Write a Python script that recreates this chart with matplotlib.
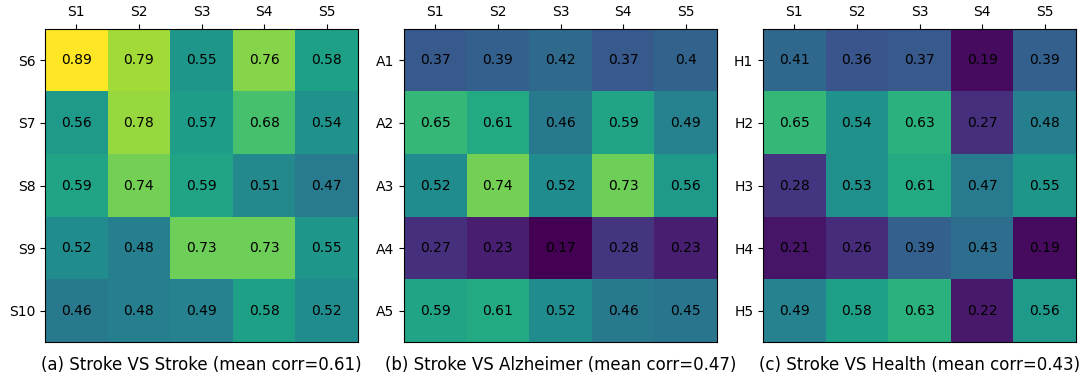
import numpy as np
import matplotlib
matplotlib.use('Agg')
import matplotlib.pyplot as plt

cols = ['S1', 'S2', 'S3', 'S4', 'S5']
rows_a = ['S6', 'S7', 'S8', 'S9', 'S10']
rows_b = ['A1', 'A2', 'A3', 'A4', 'A5']
rows_c = ['H1', 'H2', 'H3', 'H4', 'H5']

vals_a = [[0.89, 0.79, 0.55, 0.76, 0.58],
          [0.56, 0.78, 0.57, 0.68, 0.54],
          [0.59, 0.74, 0.59, 0.51, 0.47],
          [0.52, 0.48, 0.73, 0.73, 0.55],
          [0.46, 0.48, 0.49, 0.58, 0.52]]
vals_b = [[0.37, 0.39, 0.42, 0.37, 0.4],
          [0.65, 0.61, 0.46, 0.59, 0.49],
          [0.52, 0.74, 0.52, 0.73, 0.56],
          [0.27, 0.23, 0.17, 0.28, 0.23],
          [0.59, 0.61, 0.52, 0.46, 0.45]]
vals_c = [[0.41, 0.36, 0.37, 0.19, 0.39],
          [0.65, 0.54, 0.63, 0.27, 0.48],
          [0.28, 0.53, 0.61, 0.47, 0.55],
          [0.21, 0.26, 0.39, 0.43, 0.19],
          [0.49, 0.58, 0.63, 0.22, 0.56]]

captions = ['(a) Stroke VS Stroke (mean corr=0.61)',
            '(b) Stroke VS Alzheimer (mean corr=0.47)',
            '(c) Stroke VS Health (mean corr=0.43)']

panels = [(rows_a, vals_a), (rows_b, vals_b), (rows_c, vals_c)]
# gemeinsame Farbskala fuer alle drei Heatmaps
vmin = min(np.min(v) for _, v in panels)
vmax = max(np.max(v) for _, v in panels)

fig = plt.figure(figsize=(10.87, 3.81), dpi=100)
W, H = 1087, 381
lefts = [45, 404, 763]
size = 313
top = 29

for left, (rows, vals), cap in zip(lefts, panels, captions):
    ax = fig.add_axes([left / W, 1 - (top + size) / H, size / W, size / H])
    data = np.array(vals)
    ax.imshow(data, cmap='viridis', vmin=vmin, vmax=vmax, aspect='auto')
    for i in range(data.shape[0]):
        for j in range(data.shape[1]):
            ax.text(j, i, f'{vals[i][j]}', ha='center', va='center',
                    fontsize=10, color='black')
    ax.xaxis.tick_top()
    ax.set_xticks(range(len(cols)))
    ax.set_xticklabels(cols, fontsize=10)
    ax.set_yticks(range(len(rows)))
    ax.set_yticklabels(rows, fontsize=10)
    fig.text((left + size / 2) / W, 1 - 365 / H, cap, ha='center', va='center',
             fontsize=12)

fig.savefig('out.png', dpi=100)
